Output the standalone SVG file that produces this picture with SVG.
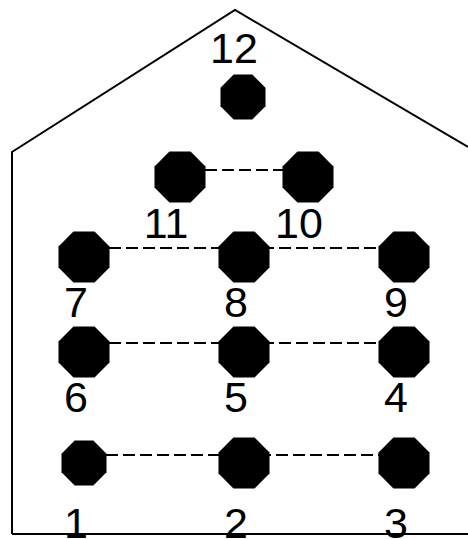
<svg xmlns="http://www.w3.org/2000/svg" width="468" height="539" viewBox="0 0 468 539">
<style>
.lbl{font-family:"Liberation Sans",Arial,sans-serif;font-size:43px;fill:#000;text-anchor:middle}
.con{stroke:#000;stroke-width:2;stroke-dasharray:12 5;fill:none}
.wall{stroke:#000;stroke-width:2;fill:none}
</style>
<defs>
<polygon id="oct" points="-10.56,-25.5 10.56,-25.5 25.5,-10.56 25.5,10.56 10.56,25.5 -10.56,25.5 -25.5,10.56 -25.5,-10.56" fill="#000"/>
<polygon id="octs" points="-9.32,-22.5 9.32,-22.5 22.5,-9.32 22.5,9.32 9.32,22.5 -9.32,22.5 -22.5,9.32 -22.5,-9.32" fill="#000"/>
</defs>
<polyline class="wall" points="12,534 12,152 235,10 468,147"/>
<line class="wall" x1="12" y1="534" x2="468" y2="534"/>
<g id="connectors">
<line class="con" x1="205" y1="170" x2="283" y2="170"/>
<line class="con" x1="109" y1="248" x2="379" y2="248"/>
<line class="con" x1="109" y1="343" x2="379" y2="343"/>
<line class="con" x1="106" y1="455" x2="379" y2="455"/>
</g>
<g id="n12"><use href="#octs" x="243" y="97"/><text class="lbl" x="234" y="63">12</text></g>
<g id="n11"><use href="#oct" x="180" y="177"/><text class="lbl" x="166" y="238">11</text></g>
<g id="n10"><use href="#oct" x="308" y="177"/><text class="lbl" x="299" y="238">10</text></g>
<g id="n7"><use href="#oct" x="84" y="257"/><text class="lbl" x="76" y="317">7</text></g>
<g id="n8"><use href="#oct" x="244" y="257"/><text class="lbl" x="236" y="317">8</text></g>
<g id="n9"><use href="#oct" x="404" y="257"/><text class="lbl" x="396" y="317">9</text></g>
<g id="n6"><use href="#oct" x="84" y="352"/><text class="lbl" x="76" y="412">6</text></g>
<g id="n5"><use href="#oct" x="244" y="352"/><text class="lbl" x="236" y="412">5</text></g>
<g id="n4"><use href="#oct" x="404" y="352"/><text class="lbl" x="396" y="412">4</text></g>
<g id="n1"><use href="#octs" x="84" y="463"/><text class="lbl" x="76" y="538">1</text></g>
<g id="n2"><use href="#oct" x="244" y="463"/><text class="lbl" x="236" y="538">2</text></g>
<g id="n3"><use href="#oct" x="404" y="463"/><text class="lbl" x="396" y="538">3</text></g>
</svg>
